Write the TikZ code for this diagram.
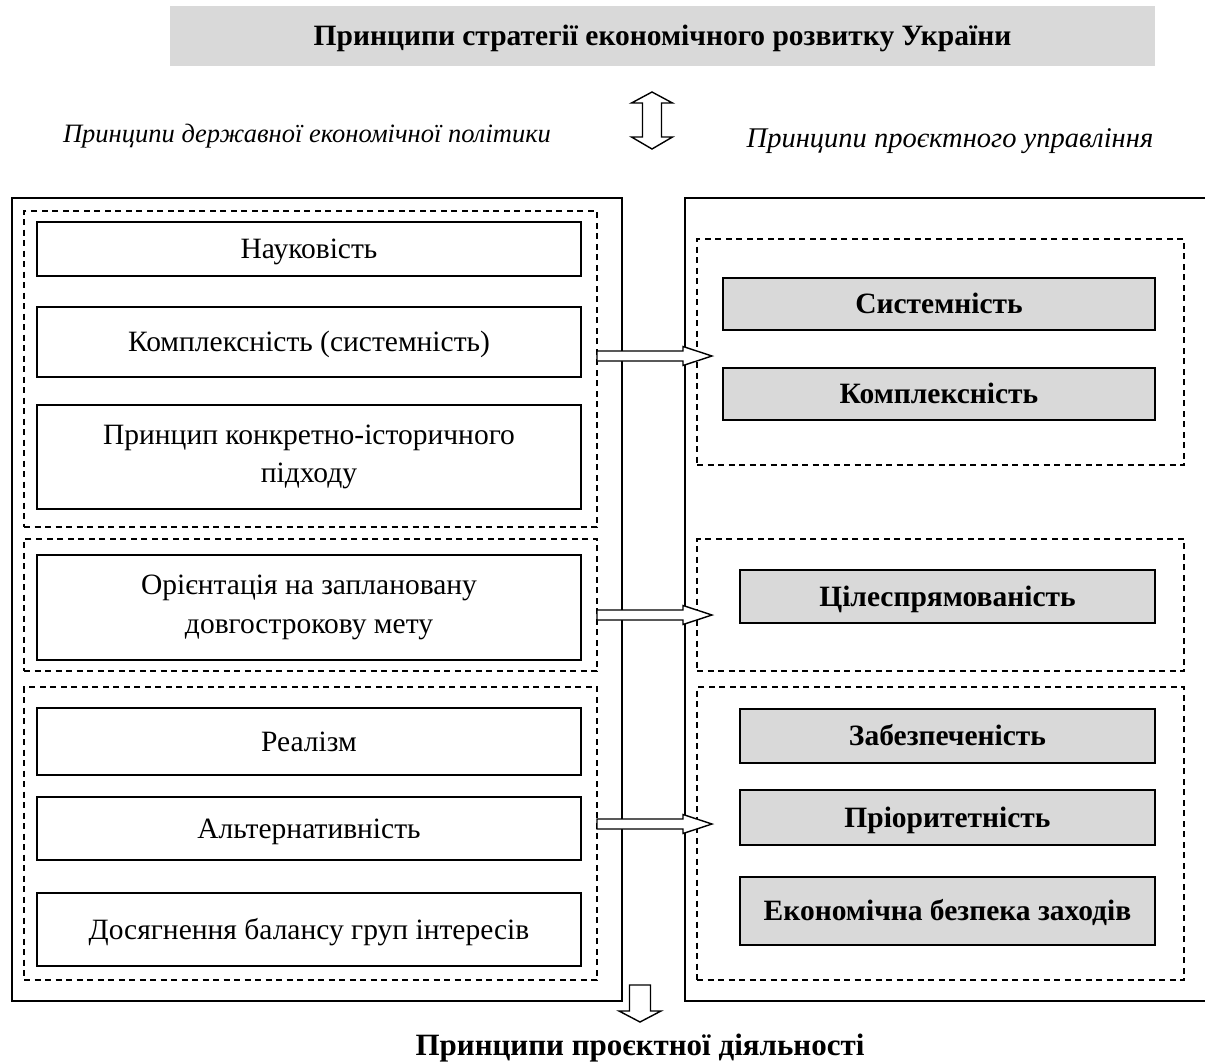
\documentclass[tikz,border=0pt]{standalone}
\usepackage{fontspec}
\setmainfont{Liberation Serif}
\usetikzlibrary{calc}
\definecolor{boxgray}{HTML}{D9D9D9}
\begin{document}
\begin{tikzpicture}[x=1pt,y=-1pt,
  every node/.style={inner sep=0pt, outer sep=0pt},
  one/.style={text height=23pt, text depth=4pt},
  plainbox/.style={draw, line width=1.4pt, fill=white, align=center, font=\fontsize{29.5}{38.5}\selectfont},
  graybox/.style={draw, line width=1.4pt, fill=boxgray, align=center, font=\bfseries\fontsize{29.5}{38.5}\selectfont},
  grp/.style={draw, dash pattern=on 6pt off 4.5pt, line width=1.4pt},
  frame/.style={draw, line width=1.6pt},
  hollow/.style={draw, line width=1.4pt, fill=white, line join=miter},
  lbl/.style={font=\itshape\fontsize{26.5}{30}\selectfont, text height=20pt, text depth=4pt}
]
\useasboundingbox (0,0) rectangle (1205,1063);

% title
\node[fill=boxgray, minimum width=985pt, minimum height=60pt, one, font=\bfseries\fontsize{29.5}{32}\selectfont] (title) at (662.5,36) {Принципи стратегії економічного розвитку України};

% double arrow
\draw[hollow] (652,92) -- (672.5,103) -- (661.5,103) -- (661.5,137) -- (672.5,137) -- (652,149) -- (631.5,137) -- (642.5,137) -- (642.5,103) -- (631.5,103) -- cycle;

\node[lbl] (lblL) at (307,134) {Принципи державної економічної політики};
\node[lbl, font=\itshape\fontsize{28.5}{30}\selectfont, text height=22pt, text depth=4pt] (lblR) at (950,138) {Принципи проєктного управління};

% big frames
\draw[frame] (12,198) rectangle (622,1001);
\draw[frame] (1206,198) -- (685,198) -- (685,1001) -- (1206,1001);

% left groups
\node[grp, minimum width=573pt, minimum height=316pt] (gL1) at (310.5,369) {};
\node[grp, minimum width=573pt, minimum height=132pt] (gL2) at (310.5,605) {};
\node[grp, minimum width=573pt, minimum height=293pt] (gL3) at (310.5,833.5) {};

% right groups
\node[grp, minimum width=487pt, minimum height=226pt] (gR1) at (940.5,352) {};
\node[grp, minimum width=487pt, minimum height=132pt] (gR2) at (940.5,605) {};
\node[grp, minimum width=487pt, minimum height=293pt] (gR3) at (940.5,833.5) {};

% left boxes
\node[plainbox, one, minimum width=544pt, minimum height=54pt] (n1) at (309,249) {Науковість};
\node[plainbox, one, minimum width=544pt, minimum height=70pt] (n2) at (309,342) {Комплексність (системність)};
\node[plainbox, minimum width=544pt, minimum height=104pt] (n3) at (309,457) {Принцип конкретно-історичного\\підходу};
\node[plainbox, minimum width=544pt, minimum height=105pt] (n4) at (309,607.5) {Орієнтація на заплановану\\довгострокову мету};
\node[plainbox, one, minimum width=544pt, minimum height=67pt] (n5) at (309,741.5) {Реалізм};
\node[plainbox, one, minimum width=544pt, minimum height=63pt] (n6) at (309,828.5) {Альтернативність};
\node[plainbox, one, minimum width=544pt, minimum height=73pt] (n7) at (309,929.5) {Досягнення балансу груп інтересів};

% right boxes
\node[graybox, one, minimum width=432pt, minimum height=52pt] (r1) at (939,304) {Системність};
\node[graybox, one, minimum width=432pt, minimum height=52pt] (r2) at (939,394) {Комплексність};
\node[graybox, one, minimum width=415pt, minimum height=53pt] (r3) at (947.5,596.5) {Цілеспрямованість};
\node[graybox, one, minimum width=415pt, minimum height=54pt] (r4) at (947.5,736) {Забезпеченість};
\node[graybox, one, minimum width=415pt, minimum height=55pt] (r5) at (947.5,817.5) {Пріоритетність};
\node[graybox, one, minimum width=415pt, minimum height=68pt] (r6) at (947.5,911) {Економічна безпека заходів};

% hollow arrows
\newcommand{\hollowarrow}[2]{%
 \draw[hollow] ($(#1)+(0,-5)$) -- ($(#2)+(-29,-5)$) -- ($(#2)+(-29,-9.5)$) -- (#2) -- ($(#2)+(-29,9.5)$) -- ($(#2)+(-29,5)$) -- ($(#1)+(0,5)$) -- cycle;}
\coordinate (a1s) at (gL1.east |- 0,356); \coordinate (a1t) at (712,356);
\coordinate (a2s) at (gL2.east |- 0,615); \coordinate (a2t) at (712,615);
\coordinate (a3s) at (gL3.east |- 0,824); \coordinate (a3t) at (712,824);
\hollowarrow{a1s}{a1t}
\hollowarrow{a2s}{a2t}
\hollowarrow{a3s}{a3t}

% down arrow
\draw[hollow] (629.5,985) -- (650.5,985) -- (650.5,1011) -- (661,1011) -- (640,1022) -- (619,1011) -- (629.5,1011) -- cycle;

\node[font=\bfseries\fontsize{31}{34}\selectfont, text height=24pt, text depth=4pt] (bottom) at (640,1045) {Принципи проєктної діяльності};
\end{tikzpicture}
\end{document}
